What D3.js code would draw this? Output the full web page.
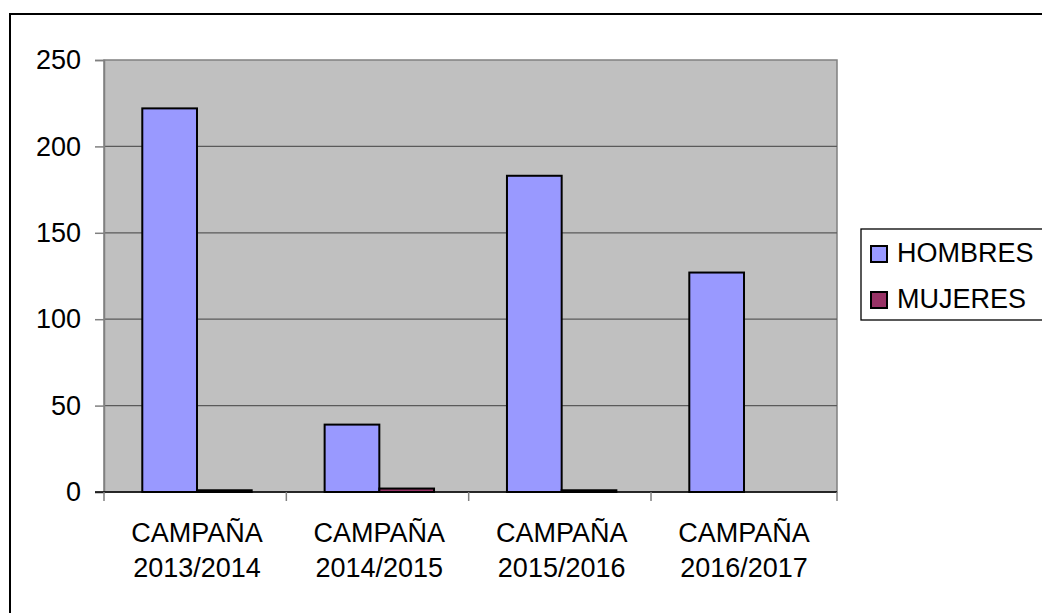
<!DOCTYPE html>
<html>
<head>
<meta charset="utf-8">
<script src="https://cdn.jsdelivr.net/npm/d3@7"></script>
<style>
  body { margin: 0; background: #fff; }
  text { font-family: "Liberation Sans", Arial, sans-serif; fill: #000; }
</style>
</head>
<body>
<svg id="chart" width="1042" height="613"></svg>
<script>
// data
var campaigns = ["CAMPAÑA 2013/2014", "CAMPAÑA 2014/2015", "CAMPAÑA 2015/2016", "CAMPAÑA 2016/2017"];
var series = ["HOMBRES", "MUJERES"];
var hombres = [222, 39, 183, 127];
var mujeres = [1, 2, 1, 0];
var yTicks = [0, 50, 100, 150, 200, 250];

var colors = {"HOMBRES": "#9999FF", "MUJERES": "#993366"};

var svg = d3.select("#chart");

// plot area
var plot = {left: 104, top: 60, right: 837, bottom: 492};

// outer chart border (runs off the right/bottom edge like the original crop)
svg.append("rect")
    .attr("x", 10).attr("y", 14)
    .attr("width", 1200).attr("height", 800)
    .attr("fill", "#fff")
    .attr("stroke", "#000")
    .attr("stroke-width", 2);

var x0 = d3.scaleBand()
    .domain(campaigns)
    .range([plot.left, plot.right])
    .paddingInner(0.4)
    .paddingOuter(0.21);

var x1 = d3.scaleBand()
    .domain(series)
    .range([0, x0.bandwidth()]);

var y = d3.scaleLinear()
    .domain([0, 250])
    .range([plot.bottom, plot.top]);

// grey background
svg.append("rect")
    .attr("x", plot.left).attr("y", plot.top)
    .attr("width", plot.right - plot.left)
    .attr("height", plot.bottom - plot.top)
    .attr("fill", "#C0C0C0")
    .attr("stroke", "#808080")
    .attr("stroke-width", 1.5);

// gridlines
svg.selectAll(".grid")
    .data(yTicks.filter(function(d) { return d > 0 && d < 250; }))
    .enter().append("line")
    .attr("x1", plot.left).attr("x2", plot.right)
    .attr("y1", function(d) { return y(d); })
    .attr("y2", function(d) { return y(d); })
    .attr("stroke", "#5a5a5a")
    .attr("stroke-width", 1.3);

// bars
var rows = campaigns.map(function(c, i) {
  return {campaign: c, values: [{key: "HOMBRES", v: hombres[i]}, {key: "MUJERES", v: mujeres[i]}]};
});

svg.selectAll(".grp")
    .data(rows)
    .enter().append("g")
    .attr("transform", function(d) { return "translate(" + x0(d.campaign) + ",0)"; })
  .selectAll("rect")
    .data(function(d) { return d.values.filter(function(e) { return e.v > 0; }); })
    .enter().append("rect")
    .attr("x", function(d) { return x1(d.key); })
    .attr("y", function(d) { return y(d.v); })
    .attr("width", x1.bandwidth())
    .attr("height", function(d) { return y(0) - y(d.v); })
    .attr("fill", function(d) { return colors[d.key]; })
    .attr("stroke", "#000")
    .attr("stroke-width", 2);

// y axis
var yAxis = svg.append("g")
    .attr("transform", "translate(" + plot.left + ",0)")
    .call(d3.axisLeft(y).tickValues(yTicks).tickSize(9).tickPadding(14));
yAxis.select(".domain").attr("stroke", "#808080").attr("stroke-width", 1.5);
yAxis.selectAll(".tick line").attr("stroke", "#808080").attr("stroke-width", 1.5);
yAxis.selectAll(".tick text")
    .style("font-size", "27px")
    .attr("font-family", "Liberation Sans, Arial, sans-serif");

// x axis baseline and ticks at category boundaries
svg.append("line")
    .attr("x1", plot.left - 9).attr("x2", plot.right)
    .attr("y1", plot.bottom).attr("y2", plot.bottom)
    .attr("stroke", "#000").attr("stroke-width", 1.5);

var bounds = campaigns.map(function(c) { return x0(c) - x0.step() * x0.paddingOuter(); });
bounds.push(plot.right);
svg.selectAll(".xtick")
    .data(bounds)
    .enter().append("line")
    .attr("x1", function(d) { return d; })
    .attr("x2", function(d) { return d; })
    .attr("y1", plot.bottom).attr("y2", plot.bottom + 9)
    .attr("stroke", "#808080").attr("stroke-width", 1.5);

// category labels (two lines)
var labels = svg.selectAll(".xlab")
    .data(campaigns)
    .enter().append("text")
    .attr("text-anchor", "middle")
    .style("font-size", "27px");
labels.each(function(c) {
  var parts = c.split(" ");
  var cx = x0(c) + x0.bandwidth() / 2;
  var t = d3.select(this);
  t.append("tspan").attr("x", cx).attr("y", 542).text(parts[0]);
  t.append("tspan").attr("x", cx).attr("y", 577).text(parts[1]);
});

// legend
svg.append("rect")
    .attr("x", 861).attr("y", 229)
    .attr("width", 300).attr("height", 91)
    .attr("fill", "#fff")
    .attr("stroke", "#000")
    .attr("stroke-width", 1.3);

var leg = svg.selectAll(".leg")
    .data(series)
    .enter().append("g")
    .attr("transform", function(d, i) { return "translate(871," + (246 + i * 46) + ")"; });
leg.append("rect")
    .attr("width", 16).attr("height", 16)
    .attr("fill", function(d) { return colors[d]; })
    .attr("stroke", "#000")
    .attr("stroke-width", 2);
leg.append("text")
    .attr("x", 26).attr("y", 16)
    .style("font-size", "27px")
    .text(function(d) { return d; });
</script>
</body>
</html>
